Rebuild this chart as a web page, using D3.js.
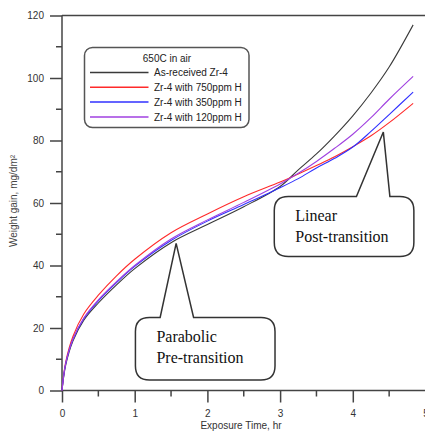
<!DOCTYPE html>
<html>
<head>
<meta charset="utf-8">
<script src="https://cdn.jsdelivr.net/npm/d3@7"></script>
<style>
  html, body { margin: 0; padding: 0; background: #fff; }
  svg { display: block; }
</style>
</head>
<body>
<svg id="chart" width="425" height="432"></svg>
<script>
// ---------- data ----------
const times = [0, 0.05, 0.15, 0.3, 0.5, 0.75, 1, 1.5, 2, 2.5, 3, 3.25, 3.5, 3.75, 4, 4.25, 4.5, 4.83];
const asReceived = [0, 8, 15.8, 22.5, 28, 33.8, 39, 47.3, 53.1, 58.8, 65.3, 70.6, 75.7, 81.5, 87.9, 95.2, 103.5, 117];
const h750 = [0, 9, 17.3, 24.5, 30.5, 36.7, 42, 50.5, 56.5, 62, 66.7, 69.3, 72, 74.8, 78, 81.5, 85.7, 91.9];
const h350 = [0, 8.5, 16.3, 23, 28.7, 34.5, 39.7, 48, 54.2, 59.5, 64.9, 67.8, 71.2, 74.3, 77.9, 82.9, 88.3, 95.5];
const h120 = [0, 8.5, 16.4, 23.2, 29, 34.8, 40, 48.5, 54.6, 60.2, 66.1, 69.5, 73.3, 77.5, 82, 87.3, 93.2, 100.5];
const seriesNames = ["As-received Zr-4", "Zr-4 with 750ppm H", "Zr-4 with 350ppm H", "Zr-4 with 120ppm H"];
const seriesValues = [asReceived, h750, h350, h120];
const seriesColors = ["#3a3a3a", "#ff2a2a", "#3030ff", "#a040e0"];
const yTicks = [0, 20, 40, 60, 80, 100, 120];
const yMinor = [10, 30, 50, 70, 90, 110];
const xTicks = [0, 1, 2, 3, 4, 5];
const xMinor = [0.5, 1.5, 2.5, 3.5, 4.5];
const legendTitle = "650C in air";
const xTitle = "Exposure Time, hr";
const yTitle = "Weight gain, mg/dm²";
// callouts: box [t0,t1] x [vLow,vHigh], pointer base t's and tip (t,v)
const callouts = [
  { lines: ["Linear", "Post-transition"], box: [2.92, 4.84, 42.9, 62.1], base: [4.05, 4.51], tip: [4.42, 82.7] },
  { lines: ["Parabolic", "Pre-transition"], box: [1.01, 2.93, 3.4, 23.4], base: [1.35, 1.81], tip: [1.57, 47.1] }
];

// ---------- layout ----------
const svg = d3.select("#chart");
const x = d3.scaleLinear().domain([0, 5]).range([62, 425.5]);
const y = d3.scaleLinear().domain([0, 120]).range([390.5, 15.5]);
const axisColor = "#444";
const font = "'Liberation Sans', Arial, sans-serif";

// axes
const gy = svg.append("g").attr("transform", `translate(${x(0)},0)`)
  .call(d3.axisLeft(y).tickValues(yTicks).tickSize(12).tickPadding(6).tickSizeOuter(0));
gy.selectAll("text").attr("font-family", font).attr("font-size", 10).attr("fill", "#333");
gy.selectAll("line").attr("stroke", axisColor).attr("stroke-width", 1.5);
gy.select(".domain").remove();
gy.selectAll(".minor").data(yMinor).enter().append("line")
  .attr("x1", -6).attr("x2", 0).attr("y1", d => y(d)).attr("y2", d => y(d))
  .attr("stroke", axisColor).attr("stroke-width", 1.5);

const gx = svg.append("g").attr("transform", `translate(0,${y(0)})`)
  .call(d3.axisBottom(x).tickValues(xTicks).tickSize(12).tickPadding(7).tickSizeOuter(0).tickFormat(d3.format("d")));
gx.selectAll("text").attr("font-family", font).attr("font-size", 10).attr("fill", "#333");
gx.selectAll("line").attr("stroke", axisColor).attr("stroke-width", 1.5);
gx.select(".domain").remove();
gx.selectAll(".minor").data(xMinor).enter().append("line")
  .attr("y1", 0).attr("y2", 6).attr("x1", d => x(d)).attr("x2", d => x(d))
  .attr("stroke", axisColor).attr("stroke-width", 1.5);

// frame lines
svg.append("line").attr("x1", x(0)).attr("x2", 425).attr("y1", y(0)).attr("y2", y(0)).attr("stroke", axisColor).attr("stroke-width", 1.5);
svg.append("line").attr("x1", x(0)).attr("x2", 425).attr("y1", y(120)).attr("y2", y(120)).attr("stroke", axisColor).attr("stroke-width", 1.5);
svg.append("line").attr("x1", x(0)).attr("x2", x(0)).attr("y1", y(0)).attr("y2", y(120)).attr("stroke", axisColor).attr("stroke-width", 1.5);

// axis titles
svg.append("text").attr("x", 241).attr("y", 429).attr("text-anchor", "middle")
  .attr("font-family", font).attr("font-size", 10).attr("fill", "#333").text(xTitle);
svg.append("text").attr("transform", "translate(17,201) rotate(-90)").attr("text-anchor", "middle")
  .attr("font-family", font).attr("font-size", 10).attr("fill", "#444").text(yTitle);

// curves
const line = d3.line().x(d => x(d[0])).y(d => y(d[1])).curve(d3.curveCatmullRom.alpha(0.5));
seriesValues.forEach((vals, i) => {
  svg.append("path").datum(times.map((t, j) => [t, vals[j]]))
    .attr("d", line).attr("fill", "none").attr("stroke", seriesColors[i]).attr("stroke-width", 1.1);
});

// legend
const lg = svg.append("g");
lg.append("rect").attr("x", 84.5).attr("y", 47.5).attr("width", 164.5).attr("height", 80).attr("rx", 8)
  .attr("fill", "#fff").attr("stroke", "#555").attr("stroke-width", 1.5);
lg.append("text").attr("x", 167).attr("y", 62).attr("text-anchor", "middle")
  .attr("font-family", font).attr("font-size", 10).attr("fill", "#222").text(legendTitle);
seriesNames.forEach((name, i) => {
  const yy = 72.5 + i * 14.8;
  lg.append("line").attr("x1", 90).attr("x2", 148.5).attr("y1", yy).attr("y2", yy)
    .attr("stroke", seriesColors[i]).attr("stroke-width", 1.5);
  lg.append("text").attr("x", 154).attr("y", yy + 3.6)
    .attr("font-family", font).attr("font-size", 10).attr("fill", "#222").text(name);
});

// callouts
callouts.forEach(c => {
  const x0 = x(c.box[0]), x1 = x(c.box[1]);
  const yTop = y(c.box[3]), yBot = y(c.box[2]);
  const r = 14;
  const bl = x(c.base[0]), br = x(c.base[1]);
  const tx = x(c.tip[0]), ty = y(c.tip[1]);
  const p = d3.path();
  p.moveTo(x0 + r, yTop);
  p.lineTo(bl, yTop);
  p.lineTo(tx, ty);
  p.lineTo(br, yTop);
  p.lineTo(x1 - r, yTop);
  p.quadraticCurveTo(x1, yTop, x1, yTop + r);
  p.lineTo(x1, yBot - r);
  p.quadraticCurveTo(x1, yBot, x1 - r, yBot);
  p.lineTo(x0 + r, yBot);
  p.quadraticCurveTo(x0, yBot, x0, yBot - r);
  p.lineTo(x0, yTop + r);
  p.quadraticCurveTo(x0, yTop, x0 + r, yTop);
  p.closePath();
  svg.append("path").attr("d", p.toString()).attr("fill", "#fff")
    .attr("stroke", "#333").attr("stroke-width", 1.5).attr("stroke-linejoin", "miter");
  c.lines.forEach((t, i) => {
    svg.append("text").attr("x", x0 + 21).attr("y", yTop + 25 + i * 20.7)
      .attr("font-family", "'Liberation Serif', 'Times New Roman', serif").attr("font-size", 16)
      .attr("fill", "#111").text(t);
  });
});
</script>
</body>
</html>
